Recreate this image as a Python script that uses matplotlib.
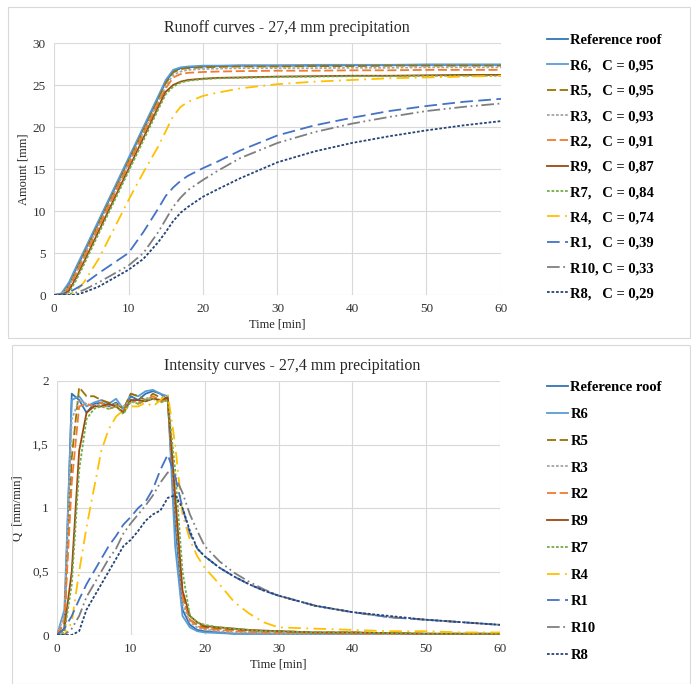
import matplotlib
matplotlib.use("Agg")
import matplotlib.pyplot as plt
from matplotlib.patches import Rectangle
from matplotlib.ticker import FuncFormatter

plt.rcParams['font.family'] = ['Liberation Serif', 'DejaVu Serif']

# ---- data ----
names = ["Reference roof", "R6", "R5", "R3", "R2", "R9", "R7", "R4", "R1", "R10", "R8"]
c_labels = ["", "C = 0,95", "C = 0,95", "C = 0,93", "C = 0,91", "C = 0,87",
            "C = 0,84", "C = 0,74", "C = 0,39", "C = 0,33", "C = 0,29"]

# runoff (accumulated amount, mm)
t_run = [0, 1, 2, 3, 4, 6, 8, 10, 12, 14, 15, 16, 17, 18, 20, 22, 25, 30, 35, 40, 45, 50, 55, 60]
run_ref = [0, 0.1, 1.3, 3.2, 5.0, 8.7, 12.4, 16.1, 19.8, 23.5, 25.4, 26.6, 27.0, 27.1, 27.2, 27.25, 27.3, 27.3, 27.3, 27.35, 27.35, 27.4, 27.4, 27.4]
run_r6 = [0, 0.2, 1.5, 3.4, 5.2, 8.9, 12.6, 16.3, 20.0, 23.7, 25.6, 26.8, 27.1, 27.2, 27.3, 27.3, 27.35, 27.35, 27.4, 27.4, 27.4, 27.45, 27.45, 27.45]
run_r5 = [0, 0.05, 1.0, 2.9, 4.8, 8.5, 12.2, 15.9, 19.6, 23.3, 25.2, 26.5, 26.9, 27.0, 27.1, 27.15, 27.2, 27.2, 27.25, 27.25, 27.3, 27.3, 27.3, 27.3]
run_r3 = [0, 0.05, 1.0, 2.8, 4.6, 8.3, 12.0, 15.7, 19.4, 23.0, 24.9, 26.2, 26.6, 26.8, 26.9, 26.95, 27.0, 27.0, 27.0, 27.05, 27.05, 27.1, 27.1, 27.1]
run_r2 = [0, 0.05, 0.8, 2.6, 4.4, 8.1, 11.8, 15.5, 19.2, 22.8, 24.6, 25.9, 26.3, 26.45, 26.55, 26.6, 26.65, 26.7, 26.7, 26.75, 26.75, 26.8, 26.8, 26.8]
run_r9 = [0, 0, 0.5, 2.1, 3.9, 7.6, 11.3, 15.0, 18.7, 22.4, 24.2, 25.0, 25.4, 25.6, 25.75, 25.85, 25.9, 26.0, 26.05, 26.1, 26.1, 26.15, 26.2, 26.2]
run_r7 = [0, 0, 0.3, 1.8, 3.6, 7.3, 11.0, 14.7, 18.4, 22.1, 23.9, 24.8, 25.3, 25.5, 25.7, 25.8, 25.85, 25.95, 26.0, 26.05, 26.05, 26.1, 26.1, 26.1]
run_r4 = [0, 0, 0.1, 0.5, 1.5, 4.3, 7.8, 11.3, 14.6, 17.7, 19.5, 21.3, 22.4, 23.0, 23.7, 24.1, 24.6, 25.1, 25.4, 25.6, 25.8, 25.9, 26.0, 26.1]
run_r1 = [0, 0.05, 0.3, 0.8, 1.3, 2.6, 3.8, 5.0, 7.5, 10.3, 11.8, 12.8, 13.6, 14.2, 15.1, 15.9, 17.2, 19.0, 20.2, 21.1, 21.9, 22.5, 23.0, 23.35]
run_r10 = [0, 0, 0.1, 0.3, 0.6, 1.5, 2.5, 3.5, 5.0, 7.5, 9.0, 10.5, 11.6, 12.5, 13.7, 14.8, 16.3, 18.1, 19.4, 20.4, 21.2, 21.9, 22.4, 22.8]
run_r8 = [0, 0, 0, 0.05, 0.3, 1.0, 2.0, 3.0, 4.3, 6.3, 7.5, 8.8, 9.8, 10.5, 11.7, 12.6, 13.9, 15.8, 17.1, 18.1, 18.9, 19.6, 20.2, 20.7]

# intensity (mm/min)
t_q = list(range(0, 21)) + [22, 24, 26, 28, 30, 35, 40, 45, 50, 55, 60]
q_ref = [0, 0.05, 1.9, 1.85, 1.75, 1.82, 1.83, 1.8, 1.83, 1.78, 1.88, 1.85, 1.9, 1.92, 1.9, 1.85, 0.9, 0.2, 0.08, 0.04, 0.03,
         0.02, 0.01, 0.01, 0.01, 0.01, 0.005, 0, 0, 0, 0, 0]
q_r6 = [0, 0.2, 1.85, 1.88, 1.8, 1.83, 1.85, 1.82, 1.86, 1.78, 1.9, 1.88, 1.92, 1.93, 1.9, 1.88, 0.7, 0.15, 0.06, 0.03, 0.02,
        0.015, 0.01, 0.01, 0.01, 0.01, 0.005, 0, 0, 0, 0, 0]
q_r5 = [0, 0.1, 1.4, 1.95, 1.88, 1.88, 1.85, 1.83, 1.82, 1.78, 1.9, 1.88, 1.85, 1.9, 1.87, 1.85, 1.0, 0.3, 0.12, 0.08, 0.06,
        0.05, 0.04, 0.035, 0.03, 0.03, 0.02, 0.02, 0.015, 0.01, 0.01, 0.01]
q_r3 = [0, 0.15, 1.7, 1.85, 1.82, 1.8, 1.82, 1.8, 1.82, 1.8, 1.85, 1.83, 1.86, 1.88, 1.85, 1.84, 1.0, 0.25, 0.1, 0.06, 0.04,
        0.03, 0.02, 0.02, 0.015, 0.01, 0.01, 0.01, 0.005, 0.005, 0, 0]
q_r2 = [0, 0.1, 1.2, 1.8, 1.82, 1.8, 1.83, 1.78, 1.8, 1.76, 1.85, 1.82, 1.85, 1.88, 1.84, 1.85, 1.1, 0.3, 0.12, 0.07, 0.05,
        0.04, 0.03, 0.025, 0.02, 0.02, 0.015, 0.01, 0.01, 0.01, 0.01, 0.01]
q_r9 = [0, 0.05, 0.5, 1.45, 1.75, 1.8, 1.8, 1.82, 1.8, 1.75, 1.85, 1.85, 1.84, 1.86, 1.85, 1.87, 1.1, 0.35, 0.15, 0.1, 0.07,
        0.06, 0.05, 0.04, 0.035, 0.03, 0.02, 0.02, 0.015, 0.01, 0.01, 0.01]
q_r7 = [0, 0.02, 0.4, 1.3, 1.7, 1.78, 1.8, 1.78, 1.8, 1.74, 1.84, 1.82, 1.85, 1.86, 1.83, 1.85, 1.3, 0.5, 0.15, 0.1, 0.08,
        0.06, 0.05, 0.04, 0.03, 0.03, 0.02, 0.02, 0.015, 0.01, 0.01, 0.01]
q_r4 = [0, 0, 0.1, 0.5, 0.85, 1.15, 1.45, 1.62, 1.72, 1.77, 1.8, 1.8, 1.83, 1.8, 1.85, 1.9, 1.5, 0.95, 0.75, 0.62, 0.53,
        0.4, 0.26, 0.17, 0.1, 0.06, 0.05, 0.04, 0.03, 0.03, 0.02, 0.02]
q_r1 = [0, 0.05, 0.15, 0.28, 0.4, 0.5, 0.6, 0.7, 0.78, 0.87, 0.93, 1.0, 1.05, 1.15, 1.3, 1.42, 1.25, 1.0, 0.8, 0.68, 0.62,
        0.53, 0.46, 0.4, 0.35, 0.31, 0.23, 0.18, 0.14, 0.12, 0.1, 0.08]
q_r10 = [0, 0, 0.05, 0.15, 0.3, 0.4, 0.5, 0.6, 0.68, 0.8, 0.88, 0.95, 1.02, 1.1, 1.2, 1.28, 1.25, 1.12, 0.95, 0.82, 0.7,
         0.58, 0.49, 0.42, 0.36, 0.31, 0.23, 0.18, 0.14, 0.12, 0.1, 0.08]
q_r8 = [0, 0, 0, 0.03, 0.2, 0.3, 0.4, 0.5, 0.6, 0.7, 0.75, 0.82, 0.9, 0.95, 0.98, 1.08, 1.1, 1.0, 0.82, 0.68, 0.62,
        0.53, 0.46, 0.4, 0.35, 0.31, 0.23, 0.18, 0.15, 0.12, 0.1, 0.08]

runoff = [run_ref, run_r6, run_r5, run_r3, run_r2, run_r9, run_r7, run_r4, run_r1, run_r10, run_r8]
intensity = [q_ref, q_r6, q_r5, q_r3, q_r2, q_r9, q_r7, q_r4, q_r1, q_r10, q_r8]

# ---- styles ----
colors = ["#2E75B6", "#5B9BD5", "#997300", "#A5A5A5", "#ED7D31", "#9E480E",
          "#70AD47", "#FFC000", "#4472C4", "#7F7F7F", "#264478"]
styles = ["-", "-", (0, (5, 2)), (0, (1.5, 1)), (0, (5, 2)), "-",
          (0, (1.5, 1)), (0, (7, 3, 1, 3)), (0, (7, 3)), (0, (7, 2, 1, 2, 1, 2)), (0, (1.5, 1))]
txt = "#262626"

fig = plt.figure(figsize=(6.91, 6.84), dpi=100)
W, H = 691, 684

# chart boxes like excel
fig.patches.append(Rectangle((8 / W, 1 - 338 / H), 682 / W, 331 / H, transform=fig.transFigure,
                             fill=False, edgecolor="#D9D9D9", linewidth=0.8))
fig.patches.append(Rectangle((12 / W, 0), 678 / W, 1 - 345 / H, transform=fig.transFigure,
                             fill=False, edgecolor="#D9D9D9", linewidth=0.8))


def style_axes(ax):
    for s in ax.spines.values():
        s.set_visible(False)
    ax.grid(True, color="#D9D9D9", linewidth=0.8)
    ax.set_axisbelow(True)
    ax.tick_params(length=0, labelsize=9.5, labelcolor="#333333", pad=6)
    ax.set_xlim(0, 60)
    ax.set_xticks(range(0, 61, 10))


ax1 = fig.add_axes([54 / W, 1 - 295 / H, 447 / W, 252 / H])
style_axes(ax1)
for i in range(len(names)):
    if i == 0:
        lab = names[i]
    elif names[i] == "R10":
        lab = names[i] + ", " + c_labels[i]
    else:
        lab = names[i] + ",   " + c_labels[i]
    ax1.plot(t_run, runoff[i], color=colors[i], linestyle=styles[i], linewidth=1.3, label=lab)
ax1.set_ylim(0, 30)
ax1.set_yticks(range(0, 31, 5))
ax1.set_title("Runoff curves - 27,4 mm precipitation", fontsize=11.5, color=txt, pad=8, x=0.52)
ax1.set_xlabel("Time [min]", fontsize=9, color=txt, labelpad=2)
ax1.set_ylabel("Amount [mm]", fontsize=9, color=txt, labelpad=2)
fig.legend(*ax1.get_legend_handles_labels(), loc="upper left", bbox_to_anchor=(547 / W, 1 - 34 / H),
           frameon=False, prop={"weight": "bold", "size": 10.5}, handlelength=1.45,
           handletextpad=0.15, labelspacing=0.83, borderpad=0, borderaxespad=0)

ax2 = fig.add_axes([57 / W, 1 - 635 / H, 443 / W, 254 / H])
style_axes(ax2)
for i in range(len(names)):
    ax2.plot(t_q, intensity[i], color=colors[i], linestyle=styles[i], linewidth=1.3, label=names[i])
ax2.set_ylim(0, 2)
ax2.set_yticks([0, 0.5, 1, 1.5, 2])
ax2.yaxis.set_major_formatter(FuncFormatter(lambda v, p: ("%g" % v).replace(".", ",")))
ax2.set_title("Intensity curves - 27,4 mm precipitation", fontsize=11.5, color=txt, pad=8, x=0.53)
ax2.set_xlabel("Time [min]", fontsize=9, color=txt, labelpad=2)
ax2.set_ylabel("Q  [mm/min]", fontsize=9, color=txt, labelpad=6)
fig.legend(*ax2.get_legend_handles_labels(), loc="upper left", bbox_to_anchor=(547 / W, 1 - 381 / H),
           frameon=False, prop={"weight": "bold", "size": 10.5}, handlelength=1.45,
           handletextpad=0.15, labelspacing=0.93, borderpad=0, borderaxespad=0)

fig.savefig("out.png", dpi=100)
